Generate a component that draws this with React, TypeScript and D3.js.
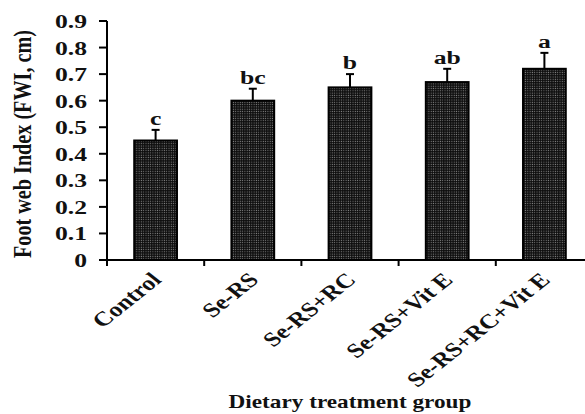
import React from 'react';
import * as d3 from 'd3';

const groups = ['Control', 'Se-RS', 'Se-RS+RC', 'Se-RS+Vit E', 'Se-RS+RC+Vit E'];
const fwi = [0.45, 0.6, 0.65, 0.67, 0.72];
const fwiErr = [0.04, 0.045, 0.05, 0.05, 0.06];
const letters = ['c', 'bc', 'b', 'ab', 'a'];
const yTicks = [0, 0.1, 0.2, 0.3, 0.4, 0.5, 0.6, 0.7, 0.8, 0.9];

const W = 585;
const H = 414;
const SX = 1.35; // the picture is stretched sideways
const FONT = '"Liberation Serif", "Times New Roman", serif';

const App = () => {
  const x = d3
    .scaleBand<string>()
    .domain(groups)
    .range([107, 593])
    .paddingInner(0.56)
    .paddingOuter(0.28);
  const y = d3.scaleLinear().domain([0, 0.9]).range([260, 21]);
  const step = x.step();
  const half = x.bandwidth() / 2;

  return (
    <svg
      width={W}
      height={H}
      style={{ position: 'absolute', left: 0, top: 0, background: '#fff' }}
      fontFamily={FONT}
      fontWeight="bold"
    >
      <defs>
        <pattern id="dots" width={2.3} height={2.3} patternUnits="userSpaceOnUse">
          <rect width={2.3} height={2.3} fill="#0d0d0d" />
          <rect x={0.6} y={0.6} width={1} height={1} fill="#8c8c8c" />
        </pattern>
      </defs>

      {/* bars + error bars + letters */}
      {groups.map((g, i) => {
        const cx = x(g)! + half;
        const top = y(fwi[i]);
        const errTop = y(fwi[i] + fwiErr[i]);
        return (
          <g key={g}>
            <rect
              x={x(g)}
              y={top}
              width={x.bandwidth()}
              height={y(0) - top}
              fill="url(#dots)"
              stroke="#000"
              strokeWidth={2}
            />
            <line x1={cx} x2={cx} y1={top} y2={errTop} stroke="#000" strokeWidth={2} />
            <line x1={cx - 4} x2={cx + 4} y1={errTop} y2={errTop} stroke="#000" strokeWidth={2} />
            <text
              transform={`translate(${cx},${errTop - 5}) scale(${SX},1)`}
              textAnchor="middle"
              fontSize={19}
              fill="#111"
            >
              {letters[i]}
            </text>
          </g>
        );
      })}

      {/* y axis */}
      <line x1={107} x2={107} y1={y(0.9)} y2={y(0)} stroke="#000" strokeWidth={2} />
      {yTicks.map((t) => (
        <g key={t}>
          <line x1={99} x2={107} y1={y(t)} y2={y(t)} stroke="#000" strokeWidth={2} />
          <text
            transform={`translate(87,${y(t) + 7}) scale(${SX},1)`}
            textAnchor="end"
            fontSize={19}
            fill="#111"
          >
            {t === 0 ? '0' : d3.format('.1f')(t)}
          </text>
        </g>
      ))}

      {/* x axis */}
      <line x1={99} x2={W} y1={y(0)} y2={y(0)} stroke="#000" strokeWidth={2} />
      {groups.map((g) => {
        const bx = x(g)! - (step - x.bandwidth()) / 2;
        return <line key={g} x1={bx} x2={bx} y1={y(0)} y2={y(0) + 6} stroke="#000" strokeWidth={2} />;
      })}
      {groups.map((g) => (
        <text
          key={g}
          transform={`translate(${x(g)! + half + 7},281) scale(1.25,1) rotate(-45)`}
          textAnchor="end"
          fontSize={20.5}
          fill="#111"
        >
          {g}
        </text>
      ))}

      {/* titles */}
      <text
        transform={`translate(31,144) scale(${SX},1) rotate(-90)`}
        textAnchor="middle"
        fontSize={19}
        textLength={228}
        lengthAdjust="spacingAndGlyphs"
        fill="#111"
      >
        Foot web Index (FWI, cm)
      </text>
      <text
        transform={`translate(350,408) scale(1.29,1)`}
        textAnchor="middle"
        fontSize={18}
        fill="#111"
      >
        Dietary treatment group
      </text>
    </svg>
  );
};

export default App;
